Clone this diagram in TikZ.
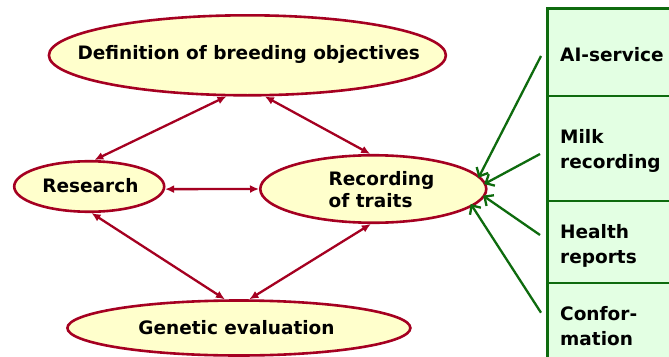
\documentclass[tikz,border=0pt]{standalone}
\usepackage{fontspec}
\setmainfont{DejaVu Sans}
\usetikzlibrary{shapes.geometric,arrows.meta}
\definecolor{ellfill}{HTML}{FFFFCC}
\definecolor{ellline}{HTML}{A50021}
\definecolor{boxfill}{HTML}{E3FFE3}
\definecolor{boxline}{HTML}{0E6B0E}
\tikzset{
  ell/.style={ellipse, draw=ellline, fill=ellfill, line width=2.6pt, inner sep=0pt},
  lbl/.style={font=\fontsize{18.5}{22}\selectfont\bfseries, inner sep=0pt, text=black},
  boxlbl/.style={font=\fontsize{18.5}{25}\selectfont\bfseries, inner sep=0pt, align=left, anchor=west, text=black},
  cell/.style={rectangle, draw=boxline, fill=boxfill, line width=2.6pt, outer sep=0pt, inner sep=0pt, anchor=north west, minimum width=160pt},
  redarr/.style={draw=ellline, line width=2.3pt, {Latex[length=9pt,width=8pt]}-{Latex[length=9pt,width=8pt]}},
  grnarr/.style={draw=boxline, line width=2.3pt, -{Straight Barb[length=7pt,width=13pt]}}
}
\begin{document}
\begin{tikzpicture}[x=1pt,y=-1pt]
\useasboundingbox (0,0) rectangle (669,356);
\clip (0,0) rectangle (669,356);
\fill[white] (0,0) rectangle (669,356);
% ellipses
\node[ell, minimum width=397pt, minimum height=80pt] (def) at (247.4,55.3) {};
\node[ell, minimum width=150pt, minimum height=50.5pt] (res) at (89.2,186.5) {};
\node[ell, minimum width=226pt, minimum height=67.5pt] (rec) at (373.3,189) {};
\node[ell, minimum width=343pt, minimum height=55pt] (gen) at (238.9,328) {};
% labels
\node[lbl] (tdef) at (248.7,54) {Definition of breeding objectives};
\node[lbl] (tres) at (90.4,185.5) {Research};
\node[lbl, align=left, anchor=west] (trec) at (328.5,190) {Recording\\of traits};
\node[lbl] (tgen) at (236.5,328) {Genetic evaluation};
% red connectors
\draw[redarr] (def.243) -- (res.79.6);
\draw[redarr] (def.293.2) -- (rec.95.2);
\draw[redarr] (res.358) -- (rec.180);
\draw[redarr] (res.275) -- (gen.116.2);
\draw[redarr] (rec.266.4) -- (gen.70.5);
% green box
\node[cell, minimum height=87.5pt] (c1) at (547.2,8.5) {};
\node[cell, minimum height=105pt] (c2) at (547.2,96) {};
\node[cell, minimum height=82pt] (c3) at (547.2,201) {};
\node[cell, minimum height=120pt] (c4) at (547.2,283) {};
\node[boxlbl] (t1) at (560,55) {AI-service};
\node[boxlbl] (t2) at (560,151) {Milk\\recording};
\node[boxlbl] (t3) at (560,245.7) {Health\\reports};
\node[boxlbl] (t4) at (560,326) {Confor-\\mation};
% green connectors
\coordinate (g1) at (541,56);
\coordinate (g2) at (540,154);
\coordinate (g3) at (540,235);
\coordinate (g4) at (541,312.7);
\draw[grnarr, shorten >=-2pt] (g1) -- (rec.7.4);
\draw[grnarr, shorten >=-2pt] (g2) -- (rec.3.1);
\draw[grnarr, shorten >=-2pt] (g3) -- (rec.356.2);
\draw[grnarr, shorten >=-3pt] (g4) -- (rec.350);
\end{tikzpicture}
\end{document}
